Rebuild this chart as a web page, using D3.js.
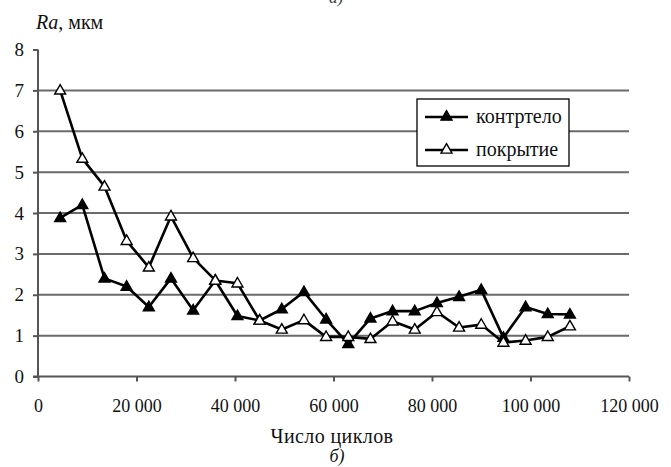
<!DOCTYPE html>
<html>
<head>
<meta charset="utf-8">
<script src="https://cdn.jsdelivr.net/npm/d3@7"></script>
<style>
  html, body { margin: 0; padding: 0; background: #fff; }
</style>
</head>
<body>
<svg id="fig" width="671" height="467"></svg>
<script>
// Number of cycles at each measurement
const cycles = [4500, 9000, 13500, 18000, 22500, 27000, 31500, 36000, 40500, 45000,
                49500, 54000, 58500, 63000, 67500, 72000, 76500, 81000, 85500, 90000,
                94500, 99000, 103500, 108000];
// Roughness Ra, µm
const kontrtelo = [3.88, 4.2, 2.4, 2.2, 1.7, 2.4, 1.62, 2.35, 1.48, 1.37,
                   1.65, 2.07, 1.4, 0.8, 1.42, 1.6, 1.6, 1.8, 1.95, 2.12,
                   0.95, 1.7, 1.53, 1.52];
const pokrytie = [7.0, 5.33, 4.65, 3.32, 2.67, 3.92, 2.9, 2.35, 2.28, 1.37,
                  1.15, 1.38, 0.97, 0.97, 0.92, 1.35, 1.15, 1.58, 1.2, 1.27,
                  0.83, 0.88, 0.97, 1.23];
const seriesNames = ["контртело", "покрытие"];
const xTicks = [0, 20000, 40000, 60000, 80000, 100000, 120000];
const yTicks = [0, 1, 2, 3, 4, 5, 6, 7, 8];
const gridValues = [1, 2, 3, 4, 5, 6, 7];

const FONT = "'Liberation Serif', 'Times New Roman', serif";
const svg = d3.select("#fig");
const x = d3.scaleLinear().domain([0, 120000]).range([38, 629]);
const y = d3.scaleLinear().domain([0, 8]).range([376.5, 49.5]);

const fmt = v => v === 0 ? "0" : d3.format(",")(v).replace(/,/g, " ");
const serif = sel => sel.style("font-family", FONT, "important");

// horizontal gridlines
svg.append("g")
  .selectAll("line")
  .data(gridValues)
  .join("line")
  .attr("x1", x(0)).attr("x2", x(120000))
  .attr("y1", d => y(d)).attr("y2", d => y(d))
  .attr("stroke", "#6a6a6a").attr("stroke-width", 2);

// x axis
const xAxis = svg.append("g")
  .attr("transform", `translate(0,${y(0)})`)
  .call(d3.axisBottom(x).tickValues(xTicks).tickSize(5).tickPadding(18).tickFormat(fmt));
xAxis.select(".domain").attr("d", `M${x(0) - 5},0H${x(120000)}`).attr("stroke", "#555").attr("stroke-width", 2);
xAxis.selectAll(".tick line").attr("stroke", "#555").attr("stroke-width", 2);
xAxis.selectAll(".tick text").call(serif).attr("font-size", 18).attr("fill", "#111");

// y axis
const yAxis = svg.append("g")
  .attr("transform", `translate(${x(0)},0)`)
  .call(d3.axisLeft(y).tickValues(yTicks).tickSize(5).tickPadding(9).tickFormat(d3.format("d")));
yAxis.select(".domain").attr("d", `M0,${y(8)}V${y(0)}`).attr("stroke", "#555").attr("stroke-width", 2);
yAxis.selectAll(".tick line").attr("stroke", "#555").attr("stroke-width", 2);
yAxis.selectAll(".tick text").call(serif).attr("font-size", 19).attr("fill", "#111");

// series lines with triangle markers
const line = d3.line().x((d, i) => x(cycles[i])).y(d => y(d));
const triangle = d3.symbol().type(d3.symbolTriangle).size(52);

function drawSeries(values, fill) {
  svg.append("path")
    .datum(values)
    .attr("d", line)
    .attr("fill", "none")
    .attr("stroke", "#000")
    .attr("stroke-width", 2.6)
    .attr("stroke-linejoin", "round");
  svg.append("g")
    .selectAll("path")
    .data(values)
    .join("path")
    .attr("d", triangle)
    .attr("transform", (d, i) => `translate(${x(cycles[i])},${y(d) + 0.5})`)
    .attr("fill", fill)
    .attr("stroke", "#000")
    .attr("stroke-width", 1.4);
}
drawSeries(kontrtelo, "#000");
drawSeries(pokrytie, "#fff");

// legend
const legend = svg.append("g").attr("transform", "translate(417,99)");
legend.append("rect")
  .attr("width", 152).attr("height", 67)
  .attr("fill", "#fff").attr("stroke", "#000").attr("stroke-width", 1.3);
const fills = ["#000", "#fff"];
seriesNames.forEach((name, i) => {
  const ly = 18 + i * 33;
  legend.append("line")
    .attr("x1", 8).attr("x2", 51).attr("y1", ly).attr("y2", ly)
    .attr("stroke", "#000").attr("stroke-width", 2.6);
  legend.append("path")
    .attr("d", triangle)
    .attr("transform", `translate(29.5,${ly})`)
    .attr("fill", fills[i]).attr("stroke", "#000").attr("stroke-width", 1.4);
  legend.append("text")
    .attr("x", 59).attr("y", ly + 6)
    .call(serif)
    .attr("font-size", 20).attr("fill", "#111")
    .text(name);
});

// axis titles
const yTitle = svg.append("text").attr("x", 36).attr("y", 29)
  .call(serif).attr("font-size", 20).attr("fill", "#111");
yTitle.append("tspan").attr("font-style", "italic").text("Ra");
yTitle.append("tspan").text(", мкм");

svg.append("text")
  .attr("x", 332).attr("y", 443).attr("text-anchor", "middle")
  .call(serif)
  .attr("font-size", 20).attr("letter-spacing", 0.4).attr("fill", "#111")
  .text("Число циклов");

svg.append("text")
  .attr("x", 337).attr("y", 462).attr("text-anchor", "middle")
  .call(serif)
  .attr("font-size", 18).attr("font-style", "italic").attr("fill", "#111")
  .text("б)");

// caption of the panel above, cut by the top edge
svg.append("text")
  .attr("x", 336).attr("y", 3).attr("text-anchor", "middle")
  .call(serif)
  .attr("font-size", 17).attr("font-style", "italic").attr("fill", "#444")
  .text("а)");
</script>
</body>
</html>
